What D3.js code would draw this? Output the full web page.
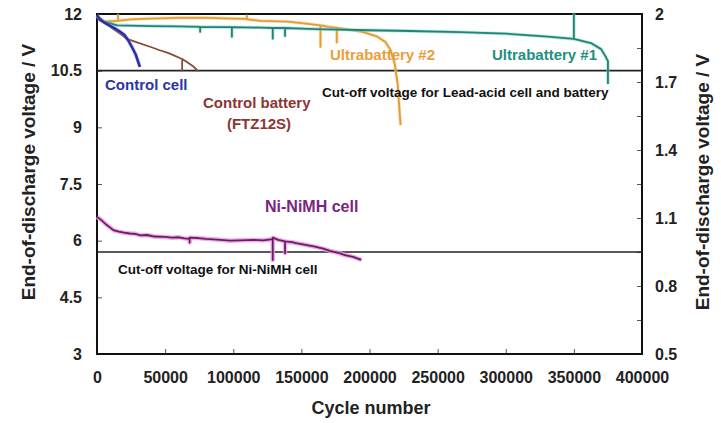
<!DOCTYPE html>
<html>
<head>
<meta charset="utf-8">
<script src="https://cdn.jsdelivr.net/npm/d3@7"></script>
<style>
  body { margin: 0; background: #fff; }
  svg text { font-family: "Liberation Sans", Arial, sans-serif; font-weight: bold; }
</style>
</head>
<body>
<script>
// axis ticks
var cycleTicks = [0, 50000, 100000, 150000, 200000, 250000, 300000, 350000, 400000];
var leftTicks = [3, 4.5, 6, 7.5, 9, 10.5, 12];
var rightTicks = [0.5, 0.65, 0.8, 0.95, 1.1, 1.25, 1.4, 1.55, 1.7, 1.85, 2];
var rightLabels = [0.5, 0.8, 1.1, 1.4, 1.7, 2];

// cut-off voltages (left axis units)
var leadCutoff = 10.5;
var nimhCutoff = 5.7;

// Control cell
var controlCellCycles = [0, 2000, 5000, 9000, 13000, 17000, 20000, 23000, 26000, 28500, 31500];
var controlCellV = [11.97, 11.85, 11.78, 11.7, 11.62, 11.53, 11.45, 11.3, 11.1, 10.92, 10.6];

// Control battery (FTZ12S)
var controlBattCycles = [0, 5000, 12000, 18000, 22000, 31000, 40000, 46000, 52000, 56000, 62500, 62500, 62500, 66000, 70500, 74300];
var controlBattV = [11.95, 11.8, 11.6, 11.45, 11.34, 11.23, 11.12, 11.04, 10.97, 10.91, 10.81, 10.5, 10.81, 10.73, 10.62, 10.48];

// Ultrabattery #1
var ub1Cycles = [0, 5000, 15000, 40000, 60000, 75700, 75700, 75700, 99000, 99000, 99000, 120000, 129000, 129000, 129000, 138000, 138000, 138000, 160000, 200000, 230000, 267000, 300000, 331000, 350000, 350000, 350000, 362500, 370000, 373500, 375000, 375000];
var ub1V = [11.95, 11.8, 11.7, 11.68, 11.67, 11.66, 11.53, 11.66, 11.65, 11.4, 11.65, 11.64, 11.63, 11.35, 11.63, 11.63, 11.42, 11.63, 11.6, 11.57, 11.55, 11.52, 11.48, 11.4, 11.34, 12.0, 11.34, 11.23, 11.07, 10.86, 10.75, 10.15];

// Ultrabattery #2
var ub2Cycles = [0, 5000, 15400, 15400, 15400, 25000, 39000, 60000, 80000, 100000, 110000, 110000, 110000, 120000, 140000, 155000, 164000, 164000, 164000, 170000, 176000, 176000, 176000, 186000, 195600, 205800, 211700, 215400, 218400, 220600, 222800];
var ub2V = [11.95, 11.8, 11.82, 11.97, 11.82, 11.86, 11.88, 11.9, 11.9, 11.88, 11.87, 11.95, 11.86, 11.82, 11.8, 11.74, 11.7, 11.13, 11.7, 11.66, 11.63, 11.25, 11.63, 11.58, 11.52, 11.4, 11.26, 11.05, 10.7, 10.17, 9.06];

// Ni-NiMH cell
var nimhCycles = [0, 3000, 7000, 12000, 16000, 20000, 24000, 28000, 32000, 36700, 42000, 50000, 55000, 60000, 64000, 68000, 68000, 68000, 74000, 80000, 88000, 97800, 105000, 115000, 122000, 129000, 129000, 129000, 133000, 138000, 138000, 138000, 143000, 147000, 153000, 160000, 166000, 171000, 177000, 182000, 188000, 194000];
var nimhV = [6.63, 6.55, 6.42, 6.28, 6.24, 6.21, 6.19, 6.18, 6.14, 6.15, 6.11, 6.1, 6.08, 6.09, 6.06, 6.05, 5.95, 6.08, 6.07, 6.05, 6.03, 6.0, 6.01, 6.02, 6.01, 6.04, 5.49, 6.08, 6.02, 5.98, 5.67, 5.98, 5.96, 5.93, 5.89, 5.84, 5.79, 5.73, 5.68, 5.62, 5.57, 5.49];

var width = 721;
var height = 423;
var plotL = 97, plotR = 642, plotT = 14, plotB = 354;

var svg = d3.select('body').append('svg').attr('width', width).attr('height', height);

var x = d3.scaleLinear().domain([0, 400000]).range([plotL, plotR]);
var yL = d3.scaleLinear().domain([3, 12]).range([plotB, plotT]);
var yR = d3.scaleLinear().domain([0.5, 2]).range([plotB, plotT]);

// axes
var gx = svg.append('g').attr('transform', 'translate(0,' + plotB + ')')
  .call(d3.axisBottom(x).tickValues(cycleTicks).tickSize(-5).tickPadding(18).tickFormat(d3.format('d')));
var gl = svg.append('g').attr('transform', 'translate(' + plotL + ',0)')
  .call(d3.axisLeft(yL).tickValues(leftTicks).tickSize(-5).tickPadding(15).tickFormat(d => d));
var gr = svg.append('g').attr('transform', 'translate(' + plotR + ',0)')
  .call(d3.axisRight(yR).tickValues(rightTicks).tickSize(-5).tickPadding(13)
    .tickFormat(d => rightLabels.indexOf(d) >= 0 ? d : ''));

[gx, gl, gr].forEach(g => {
  g.select('.domain').remove();
  g.selectAll('.tick line').attr('stroke', '#555').attr('stroke-width', 1);
  g.selectAll('.tick text').attr('fill', '#222').style('font-size', '16px');
});

// frame
svg.append('rect')
  .attr('x', plotL).attr('y', plotT)
  .attr('width', plotR - plotL).attr('height', plotB - plotT)
  .attr('fill', 'none').attr('stroke', '#111').attr('stroke-width', 2);

// cut-off lines
[leadCutoff, nimhCutoff].forEach(v => {
  svg.append('line')
    .attr('x1', plotL).attr('x2', plotR)
    .attr('y1', yL(v)).attr('y2', yL(v))
    .attr('stroke', '#222').attr('stroke-width', 1.6);
});

var line = d3.line().x(d => x(d[0])).y(d => yL(d[1]));

function series(cycles, volts, color, w) {
  var pts = cycles.map((c, i) => [c, volts[i]]);
  return svg.append('path').datum(pts)
    .attr('d', line)
    .attr('fill', 'none')
    .attr('stroke', color)
    .attr('stroke-width', w)
    .attr('stroke-linejoin', 'round');
}

series(ub2Cycles, ub2V, '#f3c77e', 3.5).attr('opacity', 0.5);
series(ub2Cycles, ub2V, '#e39b32', 1.8);
series(ub1Cycles, ub1V, '#7fcfc2', 3.5).attr('opacity', 0.5);
series(ub1Cycles, ub1V, '#1e8577', 1.8);
series(controlBattCycles, controlBattV, '#8a4a3a', 1.8);
series(controlCellCycles, controlCellV, '#8f96e0', 4).attr('opacity', 0.5);
series(controlCellCycles, controlCellV, '#2a2fa0', 2.5);
series(nimhCycles, nimhV, '#e79ce0', 4.5).attr('opacity', 0.8);
series(nimhCycles, nimhV, '#6e1a66', 1.8);

// in-plot labels
function label(txt, px, py, color, size, anchor) {
  svg.append('text')
    .attr('x', px).attr('y', py)
    .attr('fill', color)
    .attr('text-anchor', anchor || 'start')
    .style('font-size', size + 'px')
    .text(txt);
}

label('Control cell', 105, 90, '#2b35a6', 15);
label('Control battery', 203, 108, '#8b3434', 15);
label('(FTZ12S)', 259, 129, '#8b3434', 15, 'middle');
label('Ultrabattery #2', 330, 60, '#e9a03b', 15);
label('Ultrabattery #1', 492, 60, '#1f8f80', 15);
label('Cut-off voltage for Lead-acid cell and battery', 322, 97, '#111', 13.5);
label('Ni-NiMH cell', 265, 212, '#7b2580', 16);
label('Cut-off voltage for Ni-NiMH cell', 118, 274, '#111', 13.5);

// axis titles
svg.append('text')
  .attr('x', 371).attr('y', 414)
  .attr('text-anchor', 'middle')
  .attr('fill', '#222')
  .style('font-size', '18px')
  .text('Cycle number');

svg.append('text')
  .attr('transform', 'translate(35,172) rotate(-90)')
  .attr('text-anchor', 'middle')
  .attr('fill', '#222')
  .style('font-size', '19px')
  .text('End-of-discharge voltage / V');

svg.append('text')
  .attr('transform', 'translate(709,182) rotate(-90)')
  .attr('text-anchor', 'middle')
  .attr('fill', '#222')
  .style('font-size', '19px')
  .text('End-of-discharge voltage / V');
</script>
</body>
</html>
